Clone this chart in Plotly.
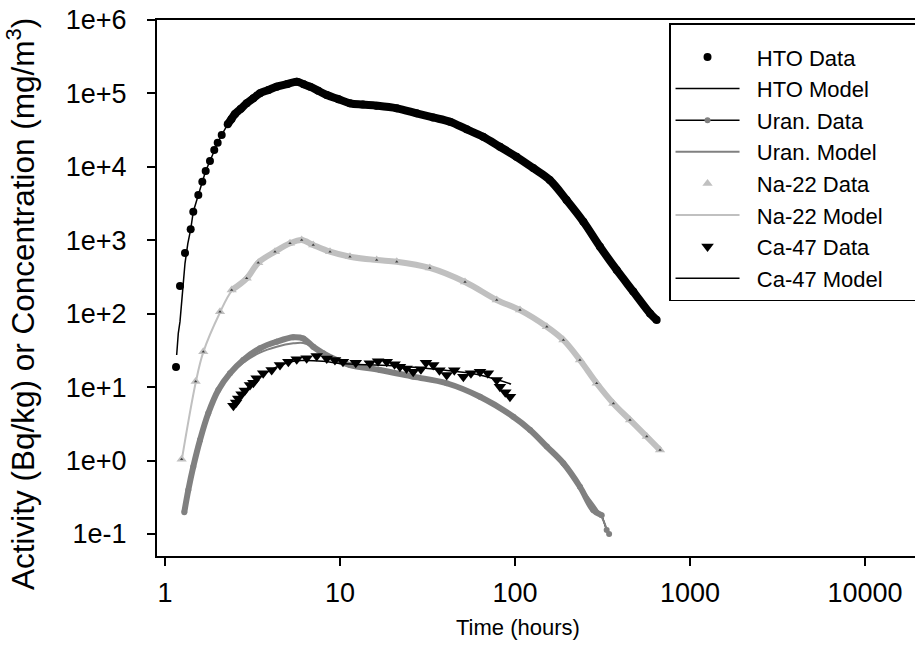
import plotly.graph_objects as go

# ---------------- data ----------------
hto_t = [1.156, 1.218, 1.301, 1.402, 1.451, 1.550, 1.634, 1.708, 1.807, 1.912, 2.000, 2.109,
         2.282, 2.40, 2.512, 2.70, 2.93, 3.20, 3.49, 3.90, 4.35, 5.00, 5.66, 6.20, 6.74, 7.50,
         8.40, 9.80, 11.4, 13.5, 16.2, 21.1, 27.4, 34.0, 42.5, 53.0, 65.7, 82.0, 102, 127,
         158, 197, 246, 306, 381, 474, 591, 645]
hto_y = [18.8, 239, 671, 1410, 2450, 4140, 6280, 8790, 12000, 17000, 21300, 27200,
         38000, 45000, 52500, 61200, 73400, 85900, 100500, 111400, 123600, 134300, 144500, 133400, 123600, 109000,
         95200, 83600, 73400, 70500, 68100, 62700, 53600, 47100, 41200, 32400, 25700, 18800, 13700, 9620,
         6620, 3540, 1790, 818, 394, 200, 101, 82]

hto_model_t = [1.166, 1.191, 1.218, 1.245, 1.272, 1.301, 1.35, 1.402, 1.451, 1.55, 1.634, 1.708,
               1.807, 1.912, 2.0, 2.109, 2.282, 2.512, 2.93, 3.49, 4.35, 5.66, 6.74, 8.4, 11.4,
               16.2, 21.1, 27.4, 42.5, 65.7, 102, 158, 197, 246, 306, 381, 474, 591, 650]
hto_model_y = [27.4, 54, 78, 162, 259, 486, 900, 1410, 2450, 4140, 6280, 8790,
               12000, 17000, 21300, 27200, 38000, 52500, 73400, 100500, 123600, 144500, 123600, 95200, 73400,
               68100, 62700, 53600, 41200, 25700, 13700, 6620, 3540, 1790, 818, 394, 200, 101, 80]

uran_t = [1.289, 1.359, 1.451, 1.585, 1.767, 2.017, 2.351, 2.80, 3.49, 4.35, 5.41, 6.17, 7.03,
          8.03, 9.57, 11.4, 16.9, 26.2, 40.7, 63.1, 97.8, 122, 152, 189, 235, 280, 313, 334, 345]
uran_y = [0.198, 0.397, 0.826, 1.9, 4.4, 9.15, 15.4, 23.4, 33.8, 41.6, 47.7, 46, 35.5,
          28.9, 23.4, 20, 17.1, 13.9, 11.3, 7.4, 3.96, 2.61, 1.55, 0.918, 0.44, 0.212, 0.18, 0.113, 0.1]

uran_model_t = [1.289, 1.451, 1.767, 2.017, 2.351, 2.80, 3.49, 4.35, 5.41, 6.17, 7.03, 8.03, 9.57,
                11.4, 16.9, 26.2, 40.7, 63.1, 97.8, 152, 235, 313, 340]
uran_model_y = [0.2, 0.8, 4.3, 9.0, 14.8, 21.5, 29.5, 35.5, 39.5, 40, 35, 29, 23.4,
                20, 17.1, 13.9, 11.3, 7.4, 3.96, 1.55, 0.44, 0.17, 0.1]

na_t = [1.245, 1.497, 1.655, 2.062, 2.405, 2.93, 3.41, 4.25, 5.18, 6.04, 7.03, 8.77, 11.4,
        16.2, 21.1, 32.6, 51.8, 78.6, 106.8, 152, 189, 235, 293, 365, 454, 566, 674]
na_y = [1.04, 11.9, 30.4, 106, 210, 303, 495, 700, 910, 1009, 863, 700, 598,
        539, 511, 420, 270, 154, 112, 66.5, 43.9, 23.4, 11.3, 6.0, 3.57, 2.12, 1.39]

na_model_t = [1.245, 1.497, 1.655, 2.062, 2.405, 2.93, 3.41, 4.25, 5.18, 6.04, 7.03, 8.77, 11.4,
              16.2, 21.1, 32.6, 51.8, 78.6, 106.8, 152, 189, 235, 293, 365, 454, 566, 674]
na_model_y = [1.0, 11.5, 30, 104, 205, 310, 490, 700, 900, 990, 870, 705, 600,
              540, 510, 420, 272, 155, 112, 66, 44, 23.5, 11.4, 6.0, 3.6, 2.1, 1.4]

ca_t = [2.46, 2.55, 2.62, 2.74, 2.86, 3.06, 3.20, 3.34, 3.64, 4.07, 4.54, 5.07, 5.66, 6.45,
        7.36, 8.40, 9.36, 10.4, 12.3, 14.8, 16.5, 18.5, 20.5, 22.0, 24.0, 26.2, 29.0, 31.0,
        34.1, 37.0, 40.7, 45.0, 50.7, 56.0, 63.1, 70.0, 78.6, 82.0, 88.0, 93.6]
ca_y = [5.6, 6.2, 7.0, 8.0, 9.0, 10.7, 11.5, 13.2, 15.4, 17.1, 20, 22.2, 24, 24.7,
        26.5, 24.5, 23.5, 22.2, 21.5, 21.1, 22.5, 22.2, 20.5, 19.0, 18, 16.2, 17.5, 21.5,
        20, 17, 14.6, 17, 13.9, 15.5, 16.2, 15.5, 12.5, 10.1, 8.5, 7.4]

ca_model_t = [2.46, 3.0, 4.0, 5.0, 6.0, 8.0, 10.0, 20.0, 40.0, 60.0, 80.0, 95.0]
ca_model_y = [5.6, 10.0, 17.0, 21.5, 23.0, 22.5, 21.0, 19.5, 17.0, 15.0, 12.5, 11.0]

x_ticks = [1, 10, 100, 1000, 10000]
x_ticktext = ["1", "10", "100", "1000", "10000"]
y_ticks = [0.1, 1, 10, 100, 1e3, 1e4, 1e5, 1e6]
y_ticktext = ["1e-1", "1e+0", "1e+1", "1e+2", "1e+3", "1e+4", "1e+5", "1e+6"]

BLACK = "#000000"
URAN = "#808080"
NA = "#c0c0c0"
FONT = "Liberation Sans, Arial, sans-serif"
NB = "\u00a0"


def lname(s):
    # lead-in and trailing room so the legend text and frame sit like the original
    return NB * 2 + s + NB * 5


fig = go.Figure()

# ---- Na-22 ----
fig.add_trace(go.Scatter(x=na_model_t, y=na_model_y, mode="lines", name=lname("Na-22 Model"),
                         line=dict(color=NA, width=2, shape="spline"), legendrank=6))
fig.add_trace(go.Scatter(x=na_t[4:], y=na_y[4:], mode="lines", showlegend=False, hoverinfo="skip",
                         line=dict(color=NA, width=6, shape="spline")))
fig.add_trace(go.Scatter(x=na_t, y=na_y, mode="markers", name=lname("Na-22 Data"),
                         marker=dict(symbol="triangle-up", size=9, color=NA), legendrank=5))
fig.add_trace(go.Scatter(x=na_t, y=na_y, mode="markers", showlegend=False, hoverinfo="skip",
                         marker=dict(symbol="triangle-up", size=3, color="#404040")))

# ---- Uranium ----
fig.add_trace(go.Scatter(x=uran_t, y=uran_y, mode="lines+markers", name=lname("Uran. Data"),
                         line=dict(color=BLACK, width=1.5),
                         marker=dict(symbol="circle", size=6, color=URAN), legendrank=3))
fig.add_trace(go.Scatter(x=uran_t[:-2], y=uran_y[:-2], mode="lines", showlegend=False, hoverinfo="skip",
                         line=dict(color=URAN, width=6, shape="spline")))
fig.add_trace(go.Scatter(x=uran_model_t, y=uran_model_y, mode="lines", name=lname("Uran. Model"),
                         line=dict(color=URAN, width=2, shape="spline"), legendrank=4))

# ---- HTO ----
fig.add_trace(go.Scatter(x=hto_t[12:], y=hto_y[12:], mode="lines", showlegend=False, hoverinfo="skip",
                         line=dict(color=BLACK, width=8, shape="spline")))
fig.add_trace(go.Scatter(x=hto_t, y=hto_y, mode="markers", name=lname("HTO Data"),
                         marker=dict(symbol="circle", size=8, color=BLACK), legendrank=1))
fig.add_trace(go.Scatter(x=hto_model_t, y=hto_model_y, mode="lines", name=lname("HTO Model"),
                         line=dict(color=BLACK, width=1.5), legendrank=2))

# ---- Ca-47 ----
fig.add_trace(go.Scatter(x=ca_model_t, y=ca_model_y, mode="lines", name=lname("Ca-47 Model"),
                         line=dict(color=BLACK, width=1.5, shape="spline"), legendrank=8))
fig.add_trace(go.Scatter(x=ca_t, y=ca_y, mode="markers", name=lname("Ca-47 Data"),
                         marker=dict(symbol="triangle-down", size=11, color=BLACK), legendrank=7))

axis_common = dict(showline=True, linecolor=BLACK, linewidth=2, ticks="outside", ticklen=8,
                   tickwidth=1.5, tickcolor=BLACK, showgrid=False, zeroline=False, automargin=False,
                   tickfont=dict(family=FONT, size=27, color=BLACK))

fig.update_xaxes(type="log", range=[-0.0457, 4.2857], tickvals=x_ticks, ticktext=x_ticktext,
                 mirror=True, ticklabelstandoff=4, **axis_common)
fig.update_yaxes(type="log", range=[-1.2996, 6.0], tickvals=y_ticks, ticktext=y_ticktext,
                 mirror=False, ticklabelstandoff=15, **axis_common)

fig.add_annotation(text="Time (hours)", xref="paper", yref="paper", x=0.4763, y=-0.1325,
                   showarrow=False, font=dict(family=FONT, size=22, color=BLACK),
                   xanchor="center", yanchor="middle")
fig.add_annotation(text="Activity (Bq/kg) or Concentration (mg/m<sup>3</sup>)", xref="paper", yref="paper",
                   x=-0.1794, y=0.470, textangle=-90, showarrow=False,
                   font=dict(family=FONT, size=31.5, color=BLACK), xanchor="center", yanchor="middle")

fig.update_layout(
    width=915, height=670,
    margin=dict(l=157, r=0, t=20, b=114, autoexpand=False),
    paper_bgcolor="white", plot_bgcolor="white",
    font=dict(family=FONT, color=BLACK),
    legend=dict(x=0.6755, y=0.9944, xanchor="left", yanchor="top",
                bgcolor="white", bordercolor=BLACK, borderwidth=1.5, itemwidth=64,
                title=dict(text=NB, font=dict(family=FONT, size=9, color=BLACK)),
                font=dict(family=FONT, size=22, color=BLACK), tracegroupgap=0),
)

fig.write_html("out.html", config={"displayModeBar": False},
               post_script="document.body.style.margin='0';document.body.style.overflow='hidden';")
